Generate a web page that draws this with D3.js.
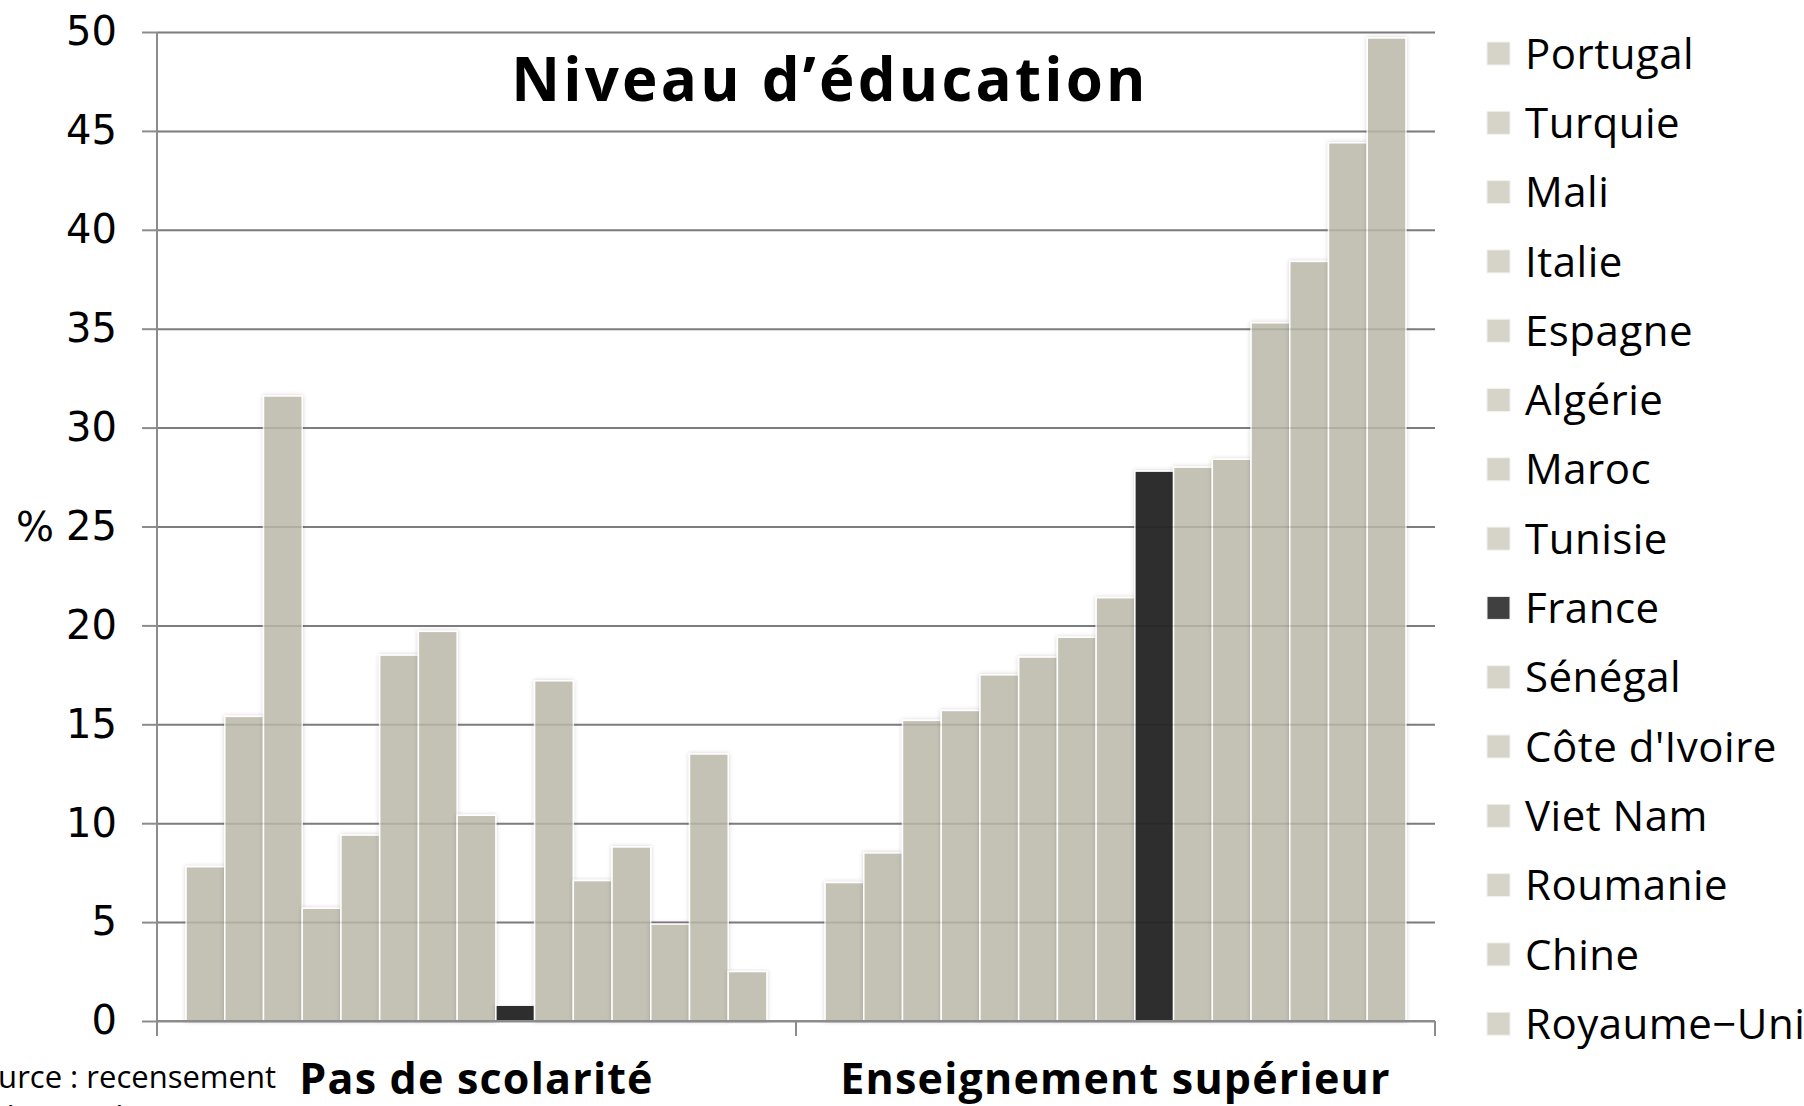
<!DOCTYPE html>
<html>
<head>
<meta charset="utf-8">
<script src="https://cdn.jsdelivr.net/npm/d3@7"></script>
<style>
  html, body { margin: 0; padding: 0; background: #fff; }
  svg { display: block; }
  text { font-family: "Open Sans", "DejaVu Sans", sans-serif; fill: #000; }
</style>
</head>
<body>
<svg id="chart" width="1804" height="1106"></svg>
<script>
// ---- Data ----
const countries = ["Portugal", "Turquie", "Mali", "Italie", "Espagne", "Algérie", "Maroc", "Tunisie",
  "France", "Sénégal", "Côte d'Ivoire", "Viet Nam", "Roumanie", "Chine", "Royaume−Uni"];
const groups = ["Pas de scolarité", "Enseignement supérieur"];
const pasDeScolarite = [7.8, 15.4, 31.6, 5.7, 9.4, 18.5, 19.7, 10.4, 0.8, 17.2, 7.1, 8.8, 4.9, 13.5, 2.5];
const enseignementSuperieur = [7.0, 8.5, 15.2, 15.7, 17.5, 18.4, 19.4, 21.4, 27.8, 28.0, 28.4, 35.3, 38.4, 44.4, 49.7];
const yTicks = [0, 5, 10, 15, 20, 25, 30, 35, 40, 45, 50];
const highlight = "France";
const title = "Niveau d’éducation";
const yLabel = "%";
const sourceLines = ["Source : recensement", "de la population 2010"];

// ---- Layout ----
const svg = d3.select("#chart");
const mLeft = 157, mRight = 1435, mTop = 32, mBottom = 1021;
const barFill = "#c4c2b5", barFillHi = "#2d2d2d";
const swatchFill = "#d6d4c8", swatchFillHi = "#404040";

const y = d3.scaleLinear().domain([0, 50]).range([mBottom, mTop]);
const x0 = d3.scaleBand().domain(groups).range([mLeft, mRight]).padding(0);
const x1 = d3.scaleBand().domain(countries).range([0, x0.bandwidth()]).paddingInner(0).paddingOuter(0.75);

const defs = svg.append("defs");
const f = defs.append("filter").attr("id", "shadow").attr("x", "-20%").attr("y", "-5%").attr("width", "140%").attr("height", "110%");
f.append("feDropShadow").attr("dx", 0).attr("dy", 0).attr("stdDeviation", 2).attr("flood-color", "#000").attr("flood-opacity", 0.18);

// gridlines (behind bars)
const grid = svg.append("g").attr("transform", `translate(${mLeft},0)`)
  .call(d3.axisLeft(y).tickValues(yTicks).tickSize(-(mRight - mLeft)).tickFormat(""));
grid.select(".domain").remove();
grid.selectAll("line").attr("stroke", "#8c8c8c").attr("stroke-width", 2);

// bars
const data = [];
groups.forEach((g, gi) => {
  const vals = gi === 0 ? pasDeScolarite : enseignementSuperieur;
  countries.forEach((c, i) => data.push({ group: g, country: c, value: vals[i] }));
});

svg.append("g").selectAll("rect").data(data).join("rect")
  .attr("x", d => x0(d.group) + x1(d.country))
  .attr("y", d => y(d.value))
  .attr("width", x1.bandwidth())
  .attr("height", d => y(0) - y(d.value))
  .attr("fill", d => d.country === highlight ? barFillHi : barFill)
  .attr("stroke", "#fff")
  .attr("stroke-width", 1.5)
  .attr("filter", "url(#shadow)");

// faint gridline overlay over bars
const grid2 = svg.append("g").attr("transform", `translate(${mLeft},0)`)
  .call(d3.axisLeft(y).tickValues(yTicks.filter(v => v > 0)).tickSize(-(mRight - mLeft)).tickFormat(""));
grid2.select(".domain").remove();
grid2.selectAll("line").attr("stroke", "#000").attr("stroke-opacity", 0.1).attr("stroke-width", 2);

// y axis
const yAxis = svg.append("g").attr("transform", `translate(${mLeft},0)`)
  .call(d3.axisLeft(y).tickValues(yTicks).tickSize(15).tickPadding(25).tickSizeOuter(0));
yAxis.select(".domain").attr("stroke", "#8c8c8c").attr("stroke-width", 2)
  .attr("d", `M0,${mTop}V${mBottom + 15}`);
yAxis.selectAll(".tick line").attr("stroke", "#8c8c8c").attr("stroke-width", 2);
yAxis.selectAll(".tick text").attr("font-size", 40).attr("fill", "#000")
  .style("font-family", '"DejaVu Sans", sans-serif');

// x axis baseline and category separators
const xAxis = svg.append("g").attr("transform", `translate(0,${mBottom})`)
  .call(d3.axisBottom(x0).tickSize(0).tickFormat(""));
xAxis.select(".domain").attr("stroke", "#8c8c8c").attr("stroke-width", 2).attr("d", `M${mLeft},0H${mRight}`);
xAxis.selectAll(".tick").remove();
const sepX = [mLeft, ...groups.map(g => x0(g) + x0.bandwidth())];
svg.append("g").selectAll("line").data(sepX).join("line")
  .attr("x1", d => d).attr("x2", d => d)
  .attr("y1", mBottom).attr("y2", mBottom + 15)
  .attr("stroke", "#8c8c8c").attr("stroke-width", 2);

// group labels
svg.append("g").selectAll("text").data(groups).join("text")
  .attr("x", d => x0(d) + x0.bandwidth() / 2)
  .attr("y", 1094)
  .attr("text-anchor", "middle")
  .attr("font-size", 43)
  .attr("font-weight", 700)
  .attr("letter-spacing", 1.2)
  .text(d => d);

// title
svg.append("text").attr("x", 830).attr("y", 101).attr("text-anchor", "middle")
  .attr("font-size", 60).attr("font-weight", 700).attr("letter-spacing", 3.2).text(title);

// y label
svg.append("text").attr("x", 16).attr("y", y(25)).attr("dy", "0.36em")
  .attr("font-size", 40).style("font-family", '"DejaVu Sans", sans-serif').text(yLabel);

// source
svg.append("g").selectAll("text").data(sourceLines).join("text")
  .attr("x", 276).attr("y", (d, i) => 1088 + i * 40)
  .attr("text-anchor", "end").attr("font-size", 31).attr("fill", "#111").text(d => d);

// legend
const leg = svg.append("g").selectAll("g").data(countries).join("g")
  .attr("transform", (d, i) => `translate(1487,${53.5 + i * 69.3})`);
leg.append("rect").attr("x", 0).attr("y", -11.5).attr("width", 23).attr("height", 23)
  .attr("fill", d => d === highlight ? swatchFillHi : swatchFill)
  .attr("stroke", "#f2f2ee").attr("stroke-width", 1);
leg.append("text").attr("x", 38).attr("y", 0).attr("dy", "0.36em")
  .attr("font-size", 42).attr("letter-spacing", 0.5).text(d => d);
</script>
</body>
</html>
